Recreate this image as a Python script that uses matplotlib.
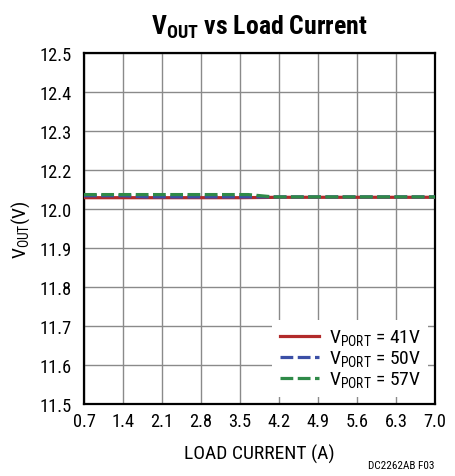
import matplotlib
matplotlib.use("Agg")
import matplotlib.pyplot as plt

FONT = 'Roboto Condensed'
plt.rcParams['font.family'] = [FONT, 'DejaVu Sans']
plt.rcParams['mathtext.fontset'] = 'custom'
plt.rcParams['mathtext.rm'] = FONT
plt.rcParams['mathtext.it'] = FONT
plt.rcParams['mathtext.bf'] = FONT + ':bold'

# Data (true axis coordinates; the chart's tick labels skip 12.1)
x_red = [0.7, 1.4, 2.1, 2.8, 3.5, 4.2, 4.9, 5.6, 6.3, 7.0]
y_red = [12.029, 12.029, 12.029, 12.029, 12.029, 12.030, 12.030, 12.030, 12.030, 12.030]
x_blue = [0.7, 1.4, 1.8, 2.1, 2.8, 3.5, 4.2, 4.9, 5.6, 6.3, 7.0]
y_blue = [12.034, 12.034, 12.031, 12.031, 12.031, 12.031, 12.031, 12.031, 12.031, 12.031, 12.031]
x_green = [0.7, 1.4, 2.1, 2.8, 3.5, 3.65, 4.1, 4.9, 5.6, 6.3, 7.0]
y_green = [12.037, 12.037, 12.037, 12.037, 12.037, 12.037, 12.031, 12.031, 12.031, 12.031, 12.031]

x_ticks = [0.7, 1.4, 2.1, 2.8, 3.5, 4.2, 4.9, 5.6, 6.3, 7.0]
x_tick_labels = ['0.7', '1.4', '2.1', '2.8', '3.5', '4.2', '4.9', '5.6', '6.3', '7.0']
y_ticks = [11.5, 11.6, 11.7, 11.8, 11.9, 12.0, 12.1, 12.2, 12.3, 12.4]
y_tick_labels = ['11.5', '11.6', '11.7', '11.8', '11.9', '12.0', '12.2', '12.3', '12.4', '12.5']
series_labels = [r'V$_{\mathregular{PORT}}$ = 41V', r'V$_{\mathregular{PORT}}$ = 50V', r'V$_{\mathregular{PORT}}$ = 57V']

fig = plt.figure(figsize=(4.55, 4.77), dpi=100)
ax = fig.add_axes([84/455, 1-405/477, (435-84)/455, (405-54)/477])

ax.plot(x_red, y_red, color='#B22A2A', lw=2.3, label=series_labels[0], zorder=3)
ax.plot(x_blue, y_blue, color='#3B4FA6', lw=2.3, dashes=(4, 1.4), label=series_labels[1], zorder=4)
ax.plot(x_green, y_green, color='#2F8A48', lw=2.3, dashes=(4, 1.4), label=series_labels[2], zorder=5)

ax.set_xlim(0.7, 7.0)
ax.set_ylim(11.5, 12.4)
ax.set_xticks(x_ticks)
ax.set_xticklabels(x_tick_labels)
ax.set_yticks(y_ticks)
ax.set_yticklabels(y_tick_labels)
ax.tick_params(length=0, labelsize=13.2)
ax.tick_params(axis='y', pad=9)
ax.tick_params(axis='x', pad=6)
ax.grid(True, color='#8a8a8a', lw=1.0)
ax.set_axisbelow(True)
for s in ax.spines.values():
    s.set_linewidth(1.6)
    s.set_color('black')

ax.set_xlabel('LOAD CURRENT (A)', fontsize=14, labelpad=10)
ax.set_ylabel(r'V$_{\mathregular{OUT}}$(V)', fontsize=14, labelpad=5)
ax.set_title(r'$\mathbf{V_{OUT}}$ vs Load Current', fontsize=18.5, fontweight='bold', pad=14)

leg = ax.legend(loc='lower right', frameon=True, fontsize=14, handlelength=2.0,
                borderaxespad=0.35, labelspacing=0.05, handletextpad=0.5, borderpad=0.4)
leg.get_frame().set_edgecolor('none')
leg.get_frame().set_facecolor('white')
leg.get_frame().set_alpha(1)

fig.text(435/455, 1-466/477, 'DC2262AB F03', fontsize=8, ha='right', va='center')

fig.savefig('out.png', dpi=100)
